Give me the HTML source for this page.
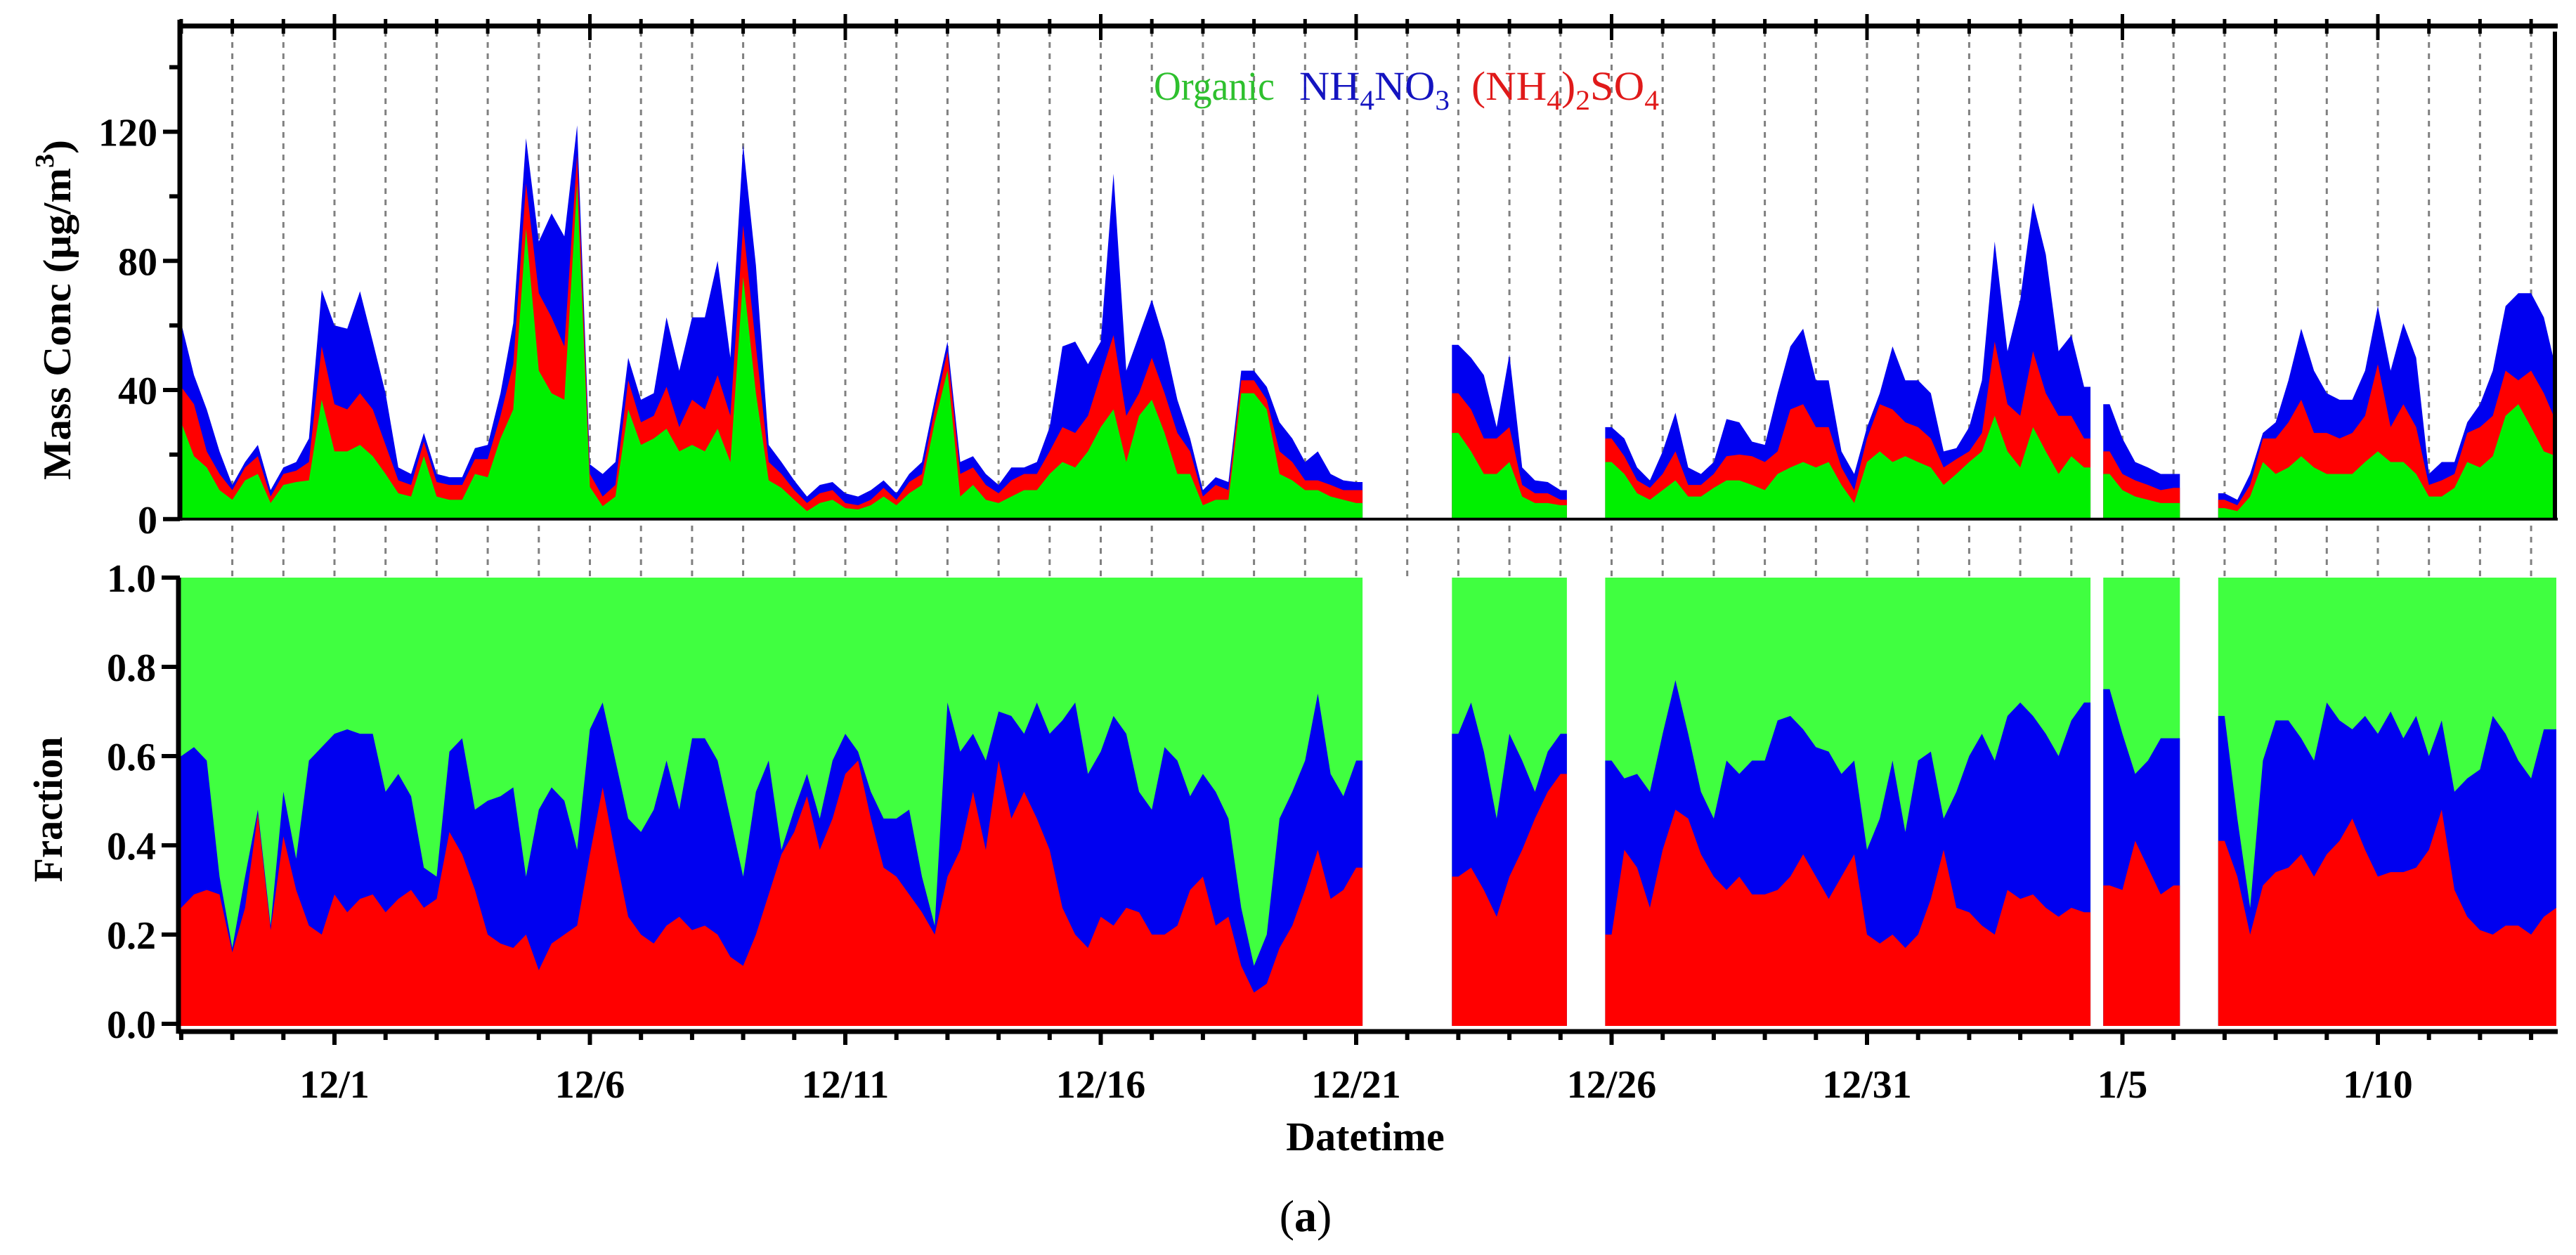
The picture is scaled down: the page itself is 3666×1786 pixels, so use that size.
<!DOCTYPE html>
<html><head><meta charset="utf-8"><title>Aerosol mass concentration and fraction</title>
<style>html,body{margin:0;padding:0;background:#fff;}svg{display:block;font-family:"Liberation Serif",serif;}</style>
</head><body>
<svg id="chart" width="3666" height="1786" viewBox="0 0 3666 1786" xmlns="http://www.w3.org/2000/svg">
<g id="grid"></g>
<g id="topData"></g>
<g id="botData"></g>
<g id="axes"></g>
<g font-size="58">
<text x="1642" y="142" fill="#2ec02e" textLength="172" lengthAdjust="spacingAndGlyphs">Organic</text>
<text x="1849" y="142" fill="#1414c0" textLength="214" lengthAdjust="spacingAndGlyphs">NH<tspan font-size="40" dy="14">4</tspan><tspan dy="-14">NO</tspan><tspan font-size="40" dy="14">3</tspan></text>
<text x="2094" y="142" fill="#e01a1a" textLength="267" lengthAdjust="spacingAndGlyphs">(NH<tspan font-size="40" dy="14">4</tspan><tspan dy="-14">)</tspan><tspan font-size="40" dy="14">2</tspan><tspan dy="-14">SO</tspan><tspan font-size="40" dy="14">4</tspan></text>
</g>
<text transform="translate(100,441) rotate(-90)" text-anchor="middle" font-size="56" font-weight="bold" textLength="484" lengthAdjust="spacingAndGlyphs">Mass Conc (μg/m<tspan font-size="38" dy="-24">3</tspan><tspan dy="24">)</tspan></text>
<text transform="translate(88,1152) rotate(-90)" text-anchor="middle" font-size="58" font-weight="bold" textLength="207" lengthAdjust="spacingAndGlyphs">Fraction</text>
<text x="1943" y="1637" text-anchor="middle" font-size="58" font-weight="bold">Datetime</text>
<text x="1858" y="1752" text-anchor="middle" font-size="64">(<tspan font-weight="bold">a</tspan>)</text>
</svg>
<script>
// time: day offset from 12/1 00:00, start -3.0, step 0.25 day
const startDay = -3.0;
const stepDay = 0.25;
const total = [
60.7,44.6,34,21, 10.6,17.7,23,9, 16,17.7,25,71, 60,59,70.6,55, 39,16,14,26.7, 14,13,13,22, 23,39,60.7,118,
86,94.7,87.6,122, 17,14,17.7,50, 37,39,62.5,46, 62.5,62.5,80,50, 116,78.6,23,17.7, 12,7,10.6,11.5, 8,7,9,12,
8,14,17.7,37, 55,17.7,19.5,14, 10.6,16,16,17.7, 28.5,53.5,55,48, 55,107,46,57, 68,55,37,25, 9,13,11.5,46,
46,41,30,25, 17.7,21,14,12, 11.5,null,null,null, null,null,null,null, 54,50,44.6,28.5, 51,16,12,11.5, 9,null,null,null,
28.5,25,16,12, 21,33,16,14, 17.7,31,30,24, 23,39,53.5,59, 43,43,21,14, 28.5,39,53.5,43, 43,39,21,22,
28.5,43,86,52, 68,98,82,52, 57,41,null,35.6, 25,17.7,16,14, 14,null,null,null, 8,6,14,26.7, 30,43,59,46,
39,37,37,46, 66,46,60.7,50, 14,17.7,17.7,30, 35.6,46,66,70, 70,62.5,46];
const organicSulfate = [
41,35.6,21,14, 9,16,19.5,7, 14,15,17.7,53.5, 35.6,34,39,34, 23,12,10.6,24, 11.5,10.6,10.6,18.6, 18.6,32,48,104,
70,62.5,53.5,113, 14,7,10.6,43, 30,32,41,28.5, 37,34,44.6,32, 91,53.5,17.7,14, 9,5,8,9, 5,4.3,6,9.7,
6,11.5,14,34, 52,14,16,10.6, 8,12,14,14, 21,28.5,26.7,32, 44.6,57,32,39, 50,39,26.7,21, 7,10.6,9,43,
43,37,21,17.7, 12,12,10.6,9, 9,null,null,null, null,null,null,null, 39,34,25,25, 28.5,10.6,8,8, 6,null,null,null,
25,19.5,12,9.7, 14,21,10.6,10.6, 14,19.5,20,19.5, 17.7,21,34,35.6, 28.5,28.5,16,9, 25,35.6,34,30, 28.5,25,16,18.6,
21,26.7,55,35.6, 32,52,39,32, 32,25,null,21, 14,12,10.6,9, 9.7,null,null,null, 6,4.3,10.6,25, 25,30,37,26.7,
26.7,25,26.7,32, 48,28.5,35.6,28.5, 10.6,12,14,26.7, 28.5,32,46,43, 46,39,30];
const organic = [
30,19.5,16,9, 6,12,14,5, 10.6,11.5,12,37, 21,21,23,19.5, 14,8,7,19.5, 7,6,6,14, 13,25,34,90,
46,39,37,104, 10,4,7,34, 23,25,28,21, 23,21,28,17.7, 75,39,12,9.7, 6,2.5,5,6, 3.4,3,4.3,7,
4.3,8,10.6,30, 46,7,10.6,6, 5,7,9,9, 14,17.7,16,21, 28.5,34,17.7,32, 37,26.7,14,14, 4.3,6,6,39,
39,34,14,12, 9,9,7,6, 5,null,null,null, null,null,null,null, 26.7,21,14,14, 17.7,7,5,5, 4.3,null,null,null,
17.7,14,8,6, 9,12,7,7, 9.7,12,12,10.6, 9,14,16,17.7, 16,17.7,10.6,5, 17.7,21,17.7,19.5, 17.7,16,10.6,14,
17.7,21,32,21, 16,28.5,21,14, 19.5,16,null,14, 9,7,6,5, 5,null,null,null, 3.4,2.5,7,17.7, 14,16,19.5,16,
14,14,14,17.7, 21,17.7,17.7,14, 7,7,9.7,17.7, 16,19.5,32,35.6, 28.5,21,19.5];
const fracSulfNitrate = [
.6,.62,.59,.33, .17,.33,.48,.22, .52,.37,.59,.62, .65,.66,.65,.65, .52,.56,.51,.35, .33,.61,.64,.48, .5,.51,.53,.33,
.48,.53,.5,.39, .66,.72,.59,.46, .43,.48,.59,.48, .64,.64,.59,.46, .33,.52,.59,.39, .48,.56,.46,.59, .65,.61,.52,.46,
.46,.48,.33,.22, .72,.61,.65,.59, .7,.69,.65,.72, .65,.68,.72,.56, .61,.69,.65,.52, .48,.62,.59,.51, .56,.52,.46,.26,
.13,.2,.46,.52, .59,.74,.56,.51, .59,null,null,null, null,null,null,null, .65,.72,.61,.46, .65,.59,.52,.61, .65,null,null,null,
.59,.55,.56,.52, .65,.77,.65,.52, .46,.59,.56,.59, .59,.68,.69,.66, .62,.61,.56,.59, .39,.46,.59,.43, .59,.61,.46,.52,
.6,.65,.59,.69, .72,.69,.65,.6, .68,.72,null,.75, .65,.56,.59,.64, .64,null,null,null, .69,.46,.26,.59, .68,.68,.64,.59,
.72,.68,.66,.69, .65,.7,.64,.69, .6,.68,.52,.55, .57,.69,.65,.59, .55,.66,.66];
const fracSulfate = [
.26,.29,.3,.29, .16,.26,.47,.21, .42,.3,.22,.2, .29,.25,.28,.29, .25,.28,.3,.26, .28,.43,.38,.3, .2,.18,.17,.2,
.12,.18,.2,.22, .38,.53,.38,.24, .2,.18,.22,.24, .21,.22,.2,.15, .13,.2,.29,.38, .43,.51,.39,.46, .56,.59,.46,.35,
.33,.29,.25,.2, .33,.39,.52,.39, .59,.46,.52,.46, .39,.26,.2,.17, .24,.22,.26,.25, .2,.2,.22,.3, .33,.22,.24,.13,
.07,.09,.17,.22, .3,.39,.28,.3, .35,null,null,null, null,null,null,null, .33,.35,.3,.24, .33,.39,.46,.52, .56,null,null,null,
.2,.39,.35,.26, .39,.48,.46,.38, .33,.3,.33,.29, .29,.3,.33,.38, .33,.28,.33,.38, .2,.18,.2,.17, .2,.28,.39,.26,
.25,.22,.2,.3, .28,.29,.26,.24, .26,.25,null,.31, .3,.41,.35,.29, .31,null,null,null, .41,.33,.2,.31, .34,.35,.38,.33,
.38,.41,.46,.39, .33,.34,.34,.35, .39,.48,.3,.24, .21,.2,.22,.22, .2,.24,.26];
const xTickLabels = ["12/1","12/6","12/11","12/16","12/21","12/26","12/31","1/5","1/10"];
const xTickDays = [0,5,10,15,20,25,30,35,40];
const massTicks = [0,20,40,60,80,100,120,140];
const massLabels = ["0","40","80","120"];
const fracTicks = [0,0.2,0.4,0.6,0.8,1.0];
const fracLabels = ["0.0","0.2","0.4","0.6","0.8","1.0"];

const NS = "http://www.w3.org/2000/svg";
const PL = 257, PR = 3638;
function X(d){ return 476 + 72.7*d; }
function YT(v){ return 738.8 - 4.594*v; }
function YB(f){ return 1457 - 635*f; }
function mk(tag, attrs, parent){
  const e = document.createElementNS(NS, tag);
  for (const k in attrs) e.setAttribute(k, attrs[k]);
  parent.appendChild(e); return e;
}
function segments(arr){
  const segs=[]; let s=-1;
  for(let i=0;i<=arr.length;i++){
    const ok = i<arr.length && arr[i]!==null && arr[i]!==undefined;
    if(ok && s<0) s=i;
    if(!ok && s>=0){ segs.push([s,i-1]); s=-1; }
  }
  return segs;
}
function areaPath(arr, a, b, yf, y0){
  const t = i => startDay + i*stepDay;
  const xl = Math.max(PL, X(t(a)-stepDay/2)), xr = Math.min(PR, X(t(b)+stepDay/2));
  let d = `M${xl},${y0} L${xl},${yf(arr[a])}`;
  for(let i=a;i<=b;i++){ const x=Math.min(PR,Math.max(PL,X(t(i)))); d+=` L${x},${yf(arr[i])}`; }
  d += ` L${xr},${yf(arr[b])} L${xr},${y0} Z`;
  return d;
}
const gridG = document.getElementById('grid');
for(let k=-3;k<=43;k++){
  const x = X(k); if(x<PL+5||x>PR-2) continue;
  const l = mk('line',{x1:x,x2:x,y1:44,y2:822,stroke:'#808080','stroke-width':3,'stroke-dasharray':'8,8'},gridG);
  
  
}
const topG = document.getElementById('topData');
const segsTop = segments(total);
const topSeries = [[total,'#0000f0','nh4no3-area'],[organicSulfate,'#ff0000','nh42so4-area'],[organic,'#00f000','organic-area']];
topSeries.forEach(([arr,col,name])=>{
  segsTop.forEach(([a,b])=>{
    const p = mk('path',{d:areaPath(arr,a,b,YT,YT(0)),fill:col},topG);
    
    
  });
});
const botG = document.getElementById('botData');
const ones = total.map(v=> v===null?null:1);
const botSeries = [[ones,'#40ff40','organic-fraction'],[fracSulfNitrate,'#0000f0','nh4no3-fraction'],[fracSulfate,'#ff0000','nh42so4-fraction']];
botSeries.forEach(([arr,col,name])=>{
  segments(arr).forEach(([a,b])=>{
    const p = mk('path',{d:areaPath(arr,a,b,YB,YB(0)+3),fill:col},botG);
    
    
  });
});
const axG = document.getElementById('axes');
function line(x1,y1,x2,y2,w,name){
  const l = mk('line',{x1,y1,x2,y2,stroke:'#000','stroke-width':w},axG);
  
  
  return l;
}
line(PL-1,738.8,PR+2,738.8,4,'top-panel-baseline');
line(254,37,3640,37,7,'top-axis');
line(256,28,256,741,7,'top-left-axis');
line(3636,45,3636,740,6,'top-right-axis');
line(254,822,254,1471,7,'bottom-left-axis');
line(254,1468,3640,1468,7,'x-axis');
for(let k=-3;k<=43;k++){
  const x=X(k); if(x<PL-2||x>PR) continue;
  const major = xTickDays.indexOf(k)>=0;
  line(x, major?20:27, x, major?57:48, 5,'top-tick');
  line(x,1468,x,major?1487:1480,6,'x-tick');
}
massTicks.forEach(v=>{
  const major = v%40===0;
  line(major?232:241,YT(v),256,YT(v),6,'mass-y-tick');
});
massLabels.forEach(s=>{
  const t = mk('text',{x:224,y:YT(+s)+20,'text-anchor':'end','font-size':56,'font-weight':'bold'},axG);
  t.textContent = s;
  
  
});
fracTicks.forEach((v,i)=>{
  line(230,YB(v),256,YB(v),6,'fraction-y-tick');
  const t = mk('text',{x:222,y:YB(v)+20,'text-anchor':'end','font-size':56,'font-weight':'bold'},axG);
  t.textContent = fracLabels[i];
  
  
});
xTickDays.forEach((d,i)=>{
  const t = mk('text',{x:X(d),y:1562,'text-anchor':'middle','font-size':56,'font-weight':'bold'},axG);
  t.textContent = xTickLabels[i];
  
  
});
</script>
</body></html>
